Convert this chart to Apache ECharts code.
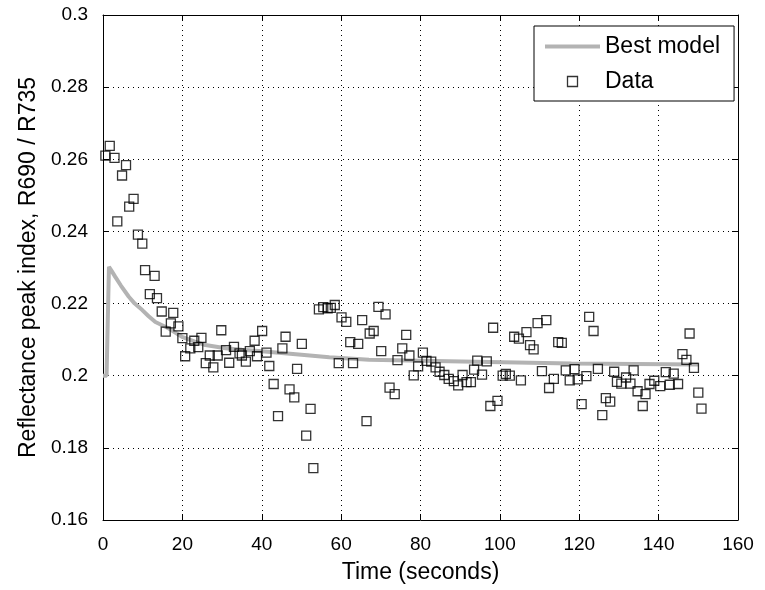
<!DOCTYPE html>
<html>
<head>
<meta charset="utf-8">
<script src="https://cdn.jsdelivr.net/npm/echarts@6/dist/echarts.min.js"></script>
<style>
html,body{margin:0;padding:0;background:#fff;}
#chart{width:765px;height:590px;}
</style>
</head>
<body>
<div id="chart"></div>
<script>
// Data
var xTicks = [0, 20, 40, 60, 80, 100, 120, 140, 160];
var yTicks = [0.16, 0.18, 0.2, 0.22, 0.24, 0.26, 0.28, 0.3];

var dataT = [0.6,1.7,2.9,3.6,4.8,5.8,6.6,7.7,8.8,9.9,10.6,11.8,13.0,13.6,14.8,15.8,17.1,17.7,19.0,20.0,
  20.7,22.0,23.0,24.0,24.8,25.9,26.9,27.8,28.9,29.8,31.0,31.8,33.0,34.4,35.0,36.0,37.0,38.2,38.8,40.1,
  41.2,41.9,43.0,44.1,45.2,46.0,47.0,48.2,48.9,50.1,51.2,52.3,53.0,54.4,55.5,56.6,57.4,58.4,59.4,60.1,
  61.3,62.3,63.0,64.3,65.3,66.4,67.2,68.2,69.4,70.1,71.2,72.2,73.5,74.2,75.4,76.4,77.2,78.3,79.4,80.6,
  81.5,82.7,83.8,84.8,86.0,87.1,88.4,89.5,90.6,91.6,92.7,93.5,94.3,95.5,96.7,97.6,98.3,99.4,100.7,101.5,
  102.5,103.6,104.8,105.3,106.7,107.6,108.5,109.5,110.6,111.7,112.4,113.6,114.7,115.6,116.6,117.6,118.8,119.6,120.6,121.8,
  122.5,123.6,124.7,125.8,126.7,127.8,128.8,129.5,130.6,131.8,132.9,133.7,134.7,136.0,136.7,137.7,138.9,140.4,141.8,142.8,
  143.8,144.9,146.0,147.0,147.8,148.9,150.0,150.8];
var dataV = [0.261,0.2637,0.2604,0.2428,0.2555,0.2584,0.2469,0.249,0.2391,0.2366,0.2293,0.2226,0.2277,0.2215,0.2178,0.2122,0.2145,0.2174,0.2137,0.2104,
  0.2054,0.2076,0.2097,0.2079,0.2105,0.2035,0.2056,0.2023,0.2056,0.2126,0.2071,0.2036,0.208,0.2062,0.2056,0.2039,0.2068,0.2097,0.2054,0.2124,
  0.2064,0.2027,0.1977,0.1888,0.2076,0.2108,0.1962,0.194,0.2019,0.2088,0.1834,0.1908,0.1744,0.2184,0.219,0.2187,0.2188,0.2196,0.2035,0.2162,
  0.2149,0.2093,0.2035,0.2088,0.2154,0.1874,0.2117,0.2124,0.2191,0.2068,0.217,0.1967,0.1949,0.2043,0.2076,0.2113,0.2056,0.2001,0.2026,0.2064,
  0.2041,0.2039,0.2023,0.2011,0.2002,0.1991,0.1985,0.1973,0.2002,0.1982,0.1982,0.2017,0.2042,0.2003,0.204,0.1916,0.2133,0.193,0.2,0.2005,
  0.2,0.2108,0.2103,0.1987,0.2121,0.2085,0.2073,0.2146,0.2013,0.2154,0.1966,0.1991,0.2093,0.2091,0.2015,0.1987,0.2018,0.199,0.1921,0.1999,
  0.2163,0.2124,0.2019,0.1891,0.1938,0.1928,0.2011,0.1983,0.1978,0.1995,0.1978,0.2015,0.1957,0.1916,0.1949,0.1977,0.1986,0.1971,0.201,0.1975,
  0.2006,0.1977,0.206,0.2044,0.2117,0.2022,0.1953,0.1909];

var modelT = [0, 0.9, 1.5, 2.2, 3.1, 4.5, 6.5, 8.0, 9.9, 11.5, 13.2, 16.6, 19.9, 23.0, 25.8, 30.9, 35.0, 40.0, 50.0, 57.0, 67.0, 87.0, 118.0, 150.0];
var modelV = [0.2, 0.2, 0.2302, 0.2290, 0.2274, 0.2250, 0.2219, 0.2200, 0.2182, 0.2165, 0.2149, 0.2131, 0.2108, 0.2095, 0.2085, 0.2076, 0.2072, 0.2068, 0.2058, 0.2051, 0.2044, 0.2040, 0.2034, 0.2031];

var FONT = 'Liberation Sans';
var scatterData = dataT.map(function (t, i) { return [t, dataV[i]]; });
var modelData = modelT.map(function (t, i) { return [t, modelV[i]]; });

var chart = echarts.init(document.getElementById('chart'), null, {renderer: 'canvas'});
var common = {
  axisLine: {show: true, onZero: false, lineStyle: {color: '#000', width: 1}},
  axisTick: {show: true, inside: true, length: 6, lineStyle: {color: '#000'}},
};
chart.setOption({
  backgroundColor: '#fff',
  animation: false,
  grid: {left: 103, right: 27, top: 15, bottom: 70, containLabel: false},
  legend: {
    orient: 'vertical', left: 534, top: 26,
    padding: [9, 14, 8, 11], itemGap: 12,
    itemWidth: 55, itemHeight: 10,
    borderColor: '#000', borderWidth: 1, backgroundColor: '#fff',
    textStyle: {fontFamily: FONT, fontSize: 23, color: '#000'},
    data: [
      {name: 'Best model', icon: 'path://M0,0L55,0L55,4L0,4Z', itemStyle: {color: '#b3b3b3', borderWidth: 0}},
      {name: 'Data', icon: 'path://M0,0L10,0L10,10L0,10Z', itemStyle: {color: 'rgba(0,0,0,0)', borderColor: '#000', borderWidth: 1.3}}
    ]
  },
  xAxis: [
    Object.assign({
      type: 'value', min: 0, max: 160, interval: 20, position: 'bottom',
      name: 'Time (seconds)', nameLocation: 'middle', nameGap: 41,
      nameTextStyle: {fontFamily: FONT, fontSize: 23, color: '#000'},
      axisLabel: {fontFamily: FONT, fontSize: 19, color: '#000', margin: 15,
        formatter: function (v) { return xTicks.indexOf(v) >= 0 ? String(v) : ''; }},
      splitLine: {show: true, lineStyle: {color: '#000', type: [1, 4], width: 1}}
    }, common),
    Object.assign({
      type: 'value', min: 0, max: 160, interval: 20, position: 'top',
      axisLabel: {show: false}, splitLine: {show: false}
    }, common)
  ],
  yAxis: [
    Object.assign({
      type: 'value', min: 0.16, max: 0.3, interval: 0.02, position: 'left',
      name: 'Reflectance peak index, R690 / R735', nameLocation: 'middle', nameGap: 62,
      nameTextStyle: {fontFamily: FONT, fontSize: 23, color: '#000'},
      axisLabel: {fontFamily: FONT, fontSize: 19, color: '#000', margin: 15,
        formatter: function (v) { return String(parseFloat(v.toFixed(2))); }},
      splitLine: {show: true, lineStyle: {color: '#000', type: [1, 4], width: 1}}
    }, common),
    Object.assign({
      type: 'value', min: 0.16, max: 0.3, interval: 0.02, position: 'right',
      axisLabel: {show: false}, splitLine: {show: false}
    }, common)
  ],
  series: [
    {
      name: 'Best model', type: 'line', data: modelData, showSymbol: false, symbol: 'none',
      lineStyle: {color: '#b3b3b3', width: 4}, itemStyle: {color: '#b3b3b3'}, z: 2
    },
    {
      name: 'Data', type: 'scatter', data: scatterData, symbol: 'rect', symbolSize: 9,
      itemStyle: {color: 'rgba(0,0,0,0)', borderColor: '#000', borderWidth: 1.3}, z: 3
    }
  ]
});
</script>
</body>
</html>
